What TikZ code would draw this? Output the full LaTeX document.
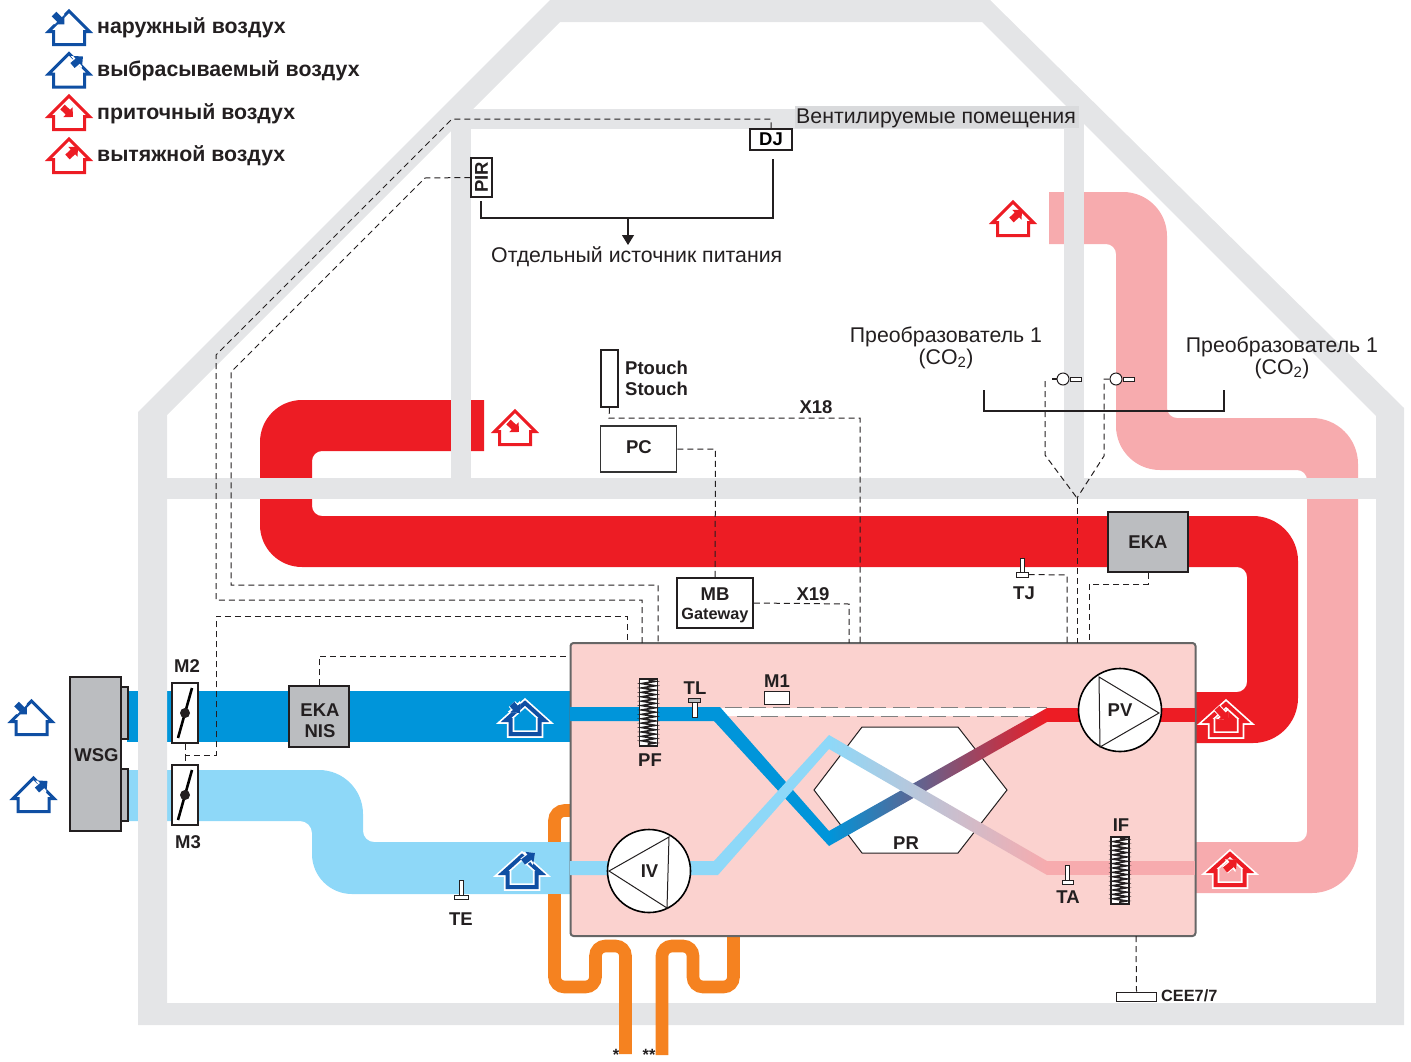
\documentclass[tikz,border=0pt]{standalone}
\usepackage{fontspec}
\setmainfont{Liberation Sans}
\usetikzlibrary{arrows.meta,calc,decorations.pathmorphing}

\definecolor{wallgray}{HTML}{E4E5E7}
\definecolor{labelgray}{HTML}{D9DADC}
\definecolor{partgray}{HTML}{BBBDC0}
\definecolor{inkdark}{HTML}{231F20}
\definecolor{unitpink}{HTML}{FBD2CF}
\definecolor{ductblue}{HTML}{0095DA}
\definecolor{ductsky}{HTML}{8ED8F8}
\definecolor{ductred}{HTML}{ED1C24}
\definecolor{ductrose}{HTML}{F7ABAE}
\definecolor{pipeorange}{HTML}{F58220}
\definecolor{houseblue}{HTML}{0F4FA3}
\definecolor{darkmix}{HTML}{6E6C7C}
\definecolor{palemix}{HTML}{C3C6DA}

\tikzset{
    big/.style={font=\fontsize{18.5}{20}\selectfont\bfseries, text=inkdark, inner sep=0pt},
    small/.style={font=\fontsize{16.3}{18}\selectfont\bfseries, text=inkdark, inner sep=0pt},
    legend/.style={font=\fontsize{21.3}{22}\selectfont\bfseries, text=inkdark, anchor=west, inner sep=0pt},
    plain/.style={font=\fontsize{21.3}{21.5}\selectfont, text=inkdark, inner sep=0pt, align=center},
    partbox/.style={rectangle, draw=inkdark, line width=1.5pt, inner sep=0pt, fill=white},
    graybox/.style={partbox, fill=partgray, font=\fontsize{18.5}{20}\selectfont\bfseries, text=inkdark, align=center},
    ctrl/.style={draw=inkdark, line width=1pt, dash pattern=on 6pt off 4pt},
    wire/.style={draw=inkdark, line width=1.2pt},
    filterbox/.style={partbox, minimum width=18pt, minimum height=67pt},
    coil/.style={draw=inkdark, line width=1.7pt, decorate, decoration={zigzag, segment length=4.4pt, amplitude=6.4pt}},
    fan/.style={circle, draw=black, line width=1.6pt, fill=white, minimum size=83pt, inner sep=0pt},
    blade/.style={draw=black, line width=2.6pt},
    stemline/.style={draw=inkdark, line width=1pt, fill=white},
    pics/airhouse/.style n args={3}{code={
        \draw[#1, line width=3pt] (-15.5,-1.5) -- (15.5,-1.5) -- (15.5,-14.5) -- (20.5,-14.5) -- (0,-35) -- (-20.5,-14.5) -- (-15.5,-14.5) -- cycle;
        \draw[white, line width=8.5pt, -{Triangle[length=9pt,width=16pt]}] (#2) -- (#3);
        \draw[#1, line width=6.5pt, -{Triangle[length=7pt,width=13pt]}] (#2) -- (#3);
    }},
    pics/ducthouse/.style n args={3}{code={
        \draw[white, line width=7.5pt] (-14.5,-3) -- (14.5,-3) -- (14.5,-17) -- (19,-17) -- (0,-34) -- (-19,-17) -- (-14.5,-17) -- cycle;
        \draw[#1, line width=4pt] (-14.5,-3) -- (14.5,-3) -- (14.5,-17) -- (19,-17) -- (0,-34) -- (-19,-17) -- (-14.5,-17) -- cycle;
        \draw[white, line width=8.5pt, -{Triangle[length=9pt,width=16pt]}] (#2) -- (#3);
        \draw[#1, line width=6.5pt, -{Triangle[length=7pt,width=13pt]}] (#2) -- (#3);
    }},
}

\begin{document}
\begin{tikzpicture}[x=1pt, y=-1pt]
    \useasboundingbox (0,0) rectangle (1411,1061);

    % ducts
    \fill[ductred] (484,400) [rounded corners=42pt] -- (260,400) -- (260,567) [rounded corners=10pt] -- (1247,567) -- (1247,692) [sharp corners] -- (1195,692) -- (1195,743) [rounded corners=45pt] -- (1298,743) -- (1298,516) [rounded corners=10pt] -- (312,516) -- (312,451) [sharp corners] -- (484,451) -- cycle;
    \fill[ductrose] (1049,192) [rounded corners=44pt] -- (1167,192) [rounded corners=10pt] -- (1167,418) [rounded corners=46pt] -- (1358,418) -- (1358,893) [sharp corners] -- (1195,893) -- (1195,842) [rounded corners=10pt] -- (1307,842) -- (1307,470) [rounded corners=44pt] -- (1116,470) [rounded corners=10pt] -- (1116,244) [sharp corners] -- (1049,244) -- cycle;
    \fill[ductblue] (127,691) rectangle (570,742);
    \fill[ductsky] (127,770) [rounded corners=44pt] -- (363,770) [rounded corners=11pt] -- (363,842) [sharp corners] -- (570,842) -- (570,894) [rounded corners=40pt] -- (312,894) [rounded corners=12pt] -- (312,821) [sharp corners] -- (127,821) -- cycle;

    % building
    \fill[wallgray, even odd rule] (138,1025) -- (138,412) -- (550,0) -- (990,0) -- (1404,408) -- (1404,1025) -- cycle
        (167,1003) -- (167,415) -- (560,22) -- (982,22) -- (1376,416) -- (1376,1003) -- cycle;
    \fill[wallgray] (138,478) rectangle (1404,499);
    \fill[wallgray] (451,110) rectangle (471,478);
    \fill[wallgray] (451,109) rectangle (1084,129);
    \fill[wallgray] (1064,110) rectangle (1084,478);
    \fill[labelgray] (795,106) rectangle (1079,128);
    \node[plain] (rooms) at (936,118) {Вентилируемые помещения};

    % hot water
    \draw[pipeorange, line width=12.6pt, rounded corners=10pt] (570,810.5) -- (554.5,810.5) -- (554.5,987) -- (595.5,987) -- (595.5,946) -- (625.5,946) -- (625.5,1054);
    \draw[pipeorange, line width=12.6pt, rounded corners=10pt] (662,1055) -- (662,946) -- (693,946) -- (693,987) -- (733.5,987) -- (733.5,930);
    \fill[ductsky] (540,842) rectangle (570,894);
    \node[small, anchor=base] (star) at (616,1060) {*};
    \node[small, anchor=base] (stars) at (649,1060) {**};

    % unit
    \node[rectangle, draw=black!60, line width=2pt, fill=unitpink, rounded corners=3pt, minimum width=625pt, minimum height=293pt, inner sep=0pt] (unit) at (883,789.5) {};

    % air inside the unit
    \fill[white] (720,708) -- (1047,708) -- (1034,716) -- (727,716) -- cycle;
    \draw[gray, line width=1pt, dash pattern=on 17pt off 7pt] (725,707.5) -- (1047,707.5);
    \draw[gray, line width=1pt, dash pattern=on 17pt off 7pt] (737,716) -- (1034,716);
    \draw[draw=inkdark, line width=1pt, fill=white] (814,790) -- (862,727) -- (958,727) -- (1007,790) -- (958,853) -- (862,853) -- cycle;
    \fill[ductblue] (570,707) -- (720,707) -- (829,831) -- (829,846) -- (714,721) -- (570,721) -- cycle;
    \fill[ductred] (1047,708) rectangle (1195,722);
    \fill[ductrose] (1047,861) rectangle (1195,875);
    \shade[left color=ductblue, middle color=darkmix, right color=ductred] (829,831) -- (1047,708) -- (1047,722) -- (829,846) -- cycle;
    \fill[ductsky] (570,861) -- (714,861) -- (829,735) -- (829,749) -- (718,875) -- (570,875) -- cycle;
    \shade[left color=ductsky, middle color=palemix, right color=ductrose] (829,735) -- (1047,861) -- (1047,875) -- (829,749) -- cycle;
    \node[big] (PR) at (906,843) {PR};

    % fans
    \node[fan] (IV) at (649,871) {};
    \draw[stemline, fill=none] (609,871) -- (669,837) -- (667,908) -- cycle;
    \node[big] at (649.5,871) {IV};
    \node[fan] (PV) at (1120,710) {};
    \draw[stemline, fill=none] (1099,677) -- (1159,713) -- (1100,747) -- cycle;
    \node[big] at (1120,710) {PV};

    % filters
    \node[filterbox] (PF) at (648.5,712.5) {};
    \draw[coil] ($(PF.north)+(0,2)$) -- ($(PF.south)+(0,-2)$);
    \node[big] at (650,760) {PF};
    \node[filterbox] (IF) at (1120,870.5) {};
    \draw[coil] ($(IF.north)+(0,2)$) -- ($(IF.south)+(0,-2)$);
    \node[big] at (1121,825) {IF};

    % sensors
    \draw[stemline] (692,700) rectangle (697,717);
    \draw[stemline, fill=partgray] (688,698) rectangle (700,702);
    \node[big] at (695,688) {TL};
    \node[rectangle, draw=inkdark, line width=1pt, fill=white, minimum width=25pt, minimum height=13pt, inner sep=0pt] (M1) at (777,698) {};
    \node[big] at (777,681) {M1};
    \draw[stemline] (1065,865) rectangle (1069,880);
    \draw[stemline] (1062,880) rectangle (1073,884);
    \node[big] at (1068,897) {TA};
    \draw[stemline] (459,880) rectangle (463,895);
    \draw[stemline] (454,895) rectangle (468,899);
    \node[big] at (461,919) {TE};
    \draw[stemline] (1020,558) rectangle (1024,572);
    \node[rectangle, draw=inkdark, line width=1pt, fill=white, minimum width=12pt, minimum height=5pt, inner sep=0pt] (TJ) at (1022,574.5) {};
    \node[big] at (1024,593) {TJ};

    % outside parts
    \node[graybox, minimum width=7pt, minimum height=52pt] (tabA) at (124.5,713) {};
    \node[graybox, minimum width=7pt, minimum height=52pt] (tabB) at (124.5,795) {};
    \node[graybox, minimum width=51pt, minimum height=154pt] (WSG) at (95.5,754) {};
    \node[big] at (96.5,755) {WSG};
    \node[partbox, minimum width=26pt, minimum height=60pt] (M2) at (185,713) {};
    \draw[blade] (178,738) -- (192,688);
    \fill[inkdark] (M2.center) circle (5);
    \node[big] at (187,666) {M2};
    \node[partbox, minimum width=26pt, minimum height=60pt] (M3) at (185,795) {};
    \draw[blade] (178,820) -- (192,770);
    \fill[inkdark] (M3.center) circle (5);
    \node[big] at (188,842) {M3};
    \node[graybox, minimum width=60pt, minimum height=61pt] (NIS) at (319,716.5) {};
    \node[big] at (320,710) {EKA};
    \node[big] at (320,731) {NIS};
    \node[graybox, minimum width=80pt, minimum height=60pt] (EKA) at (1148,542) {EKA};

    % controls
    \node[partbox, minimum width=42pt, minimum height=21pt, font=\fontsize{18.5}{20}\selectfont\bfseries] (DJ) at (771,139.5) {DJ};
    \node[partbox, minimum width=21pt, minimum height=39pt] (PIR) at (481.5,177.5) {};
    \node[big, rotate=90] at (PIR) {PIR};
    \node[partbox, minimum width=17pt, minimum height=57pt] (touch) at (609.5,378.5) {};
    \node[big, anchor=west, align=left] at (625,378) {Ptouch\\[1pt]Stouch};
    \node[partbox, draw=black!80, minimum width=76pt, minimum height=46pt] (PC) at (638.5,449) {};
    \node[big] at (639,447.5) {PC};
    \node[partbox, minimum width=76pt, minimum height=50pt] (MB) at (715,603) {};
    \node[big] at (715,594) {MB};
    \node[small] at (715,615) {Gateway};
    \node[big] at (816,407) {X18};
    \node[big] at (813,594) {X19};
    \node[plain, anchor=west] (power) at (491,256.5) {Отдельный источник питания};
    \node[plain] at (946,348) {Преобразователь 1\\(CO\textsubscript{2})};
    \node[plain] at (1282,358) {Преобразователь 1\\(CO\textsubscript{2})};

    % sensors on the duct
    \node[circle, draw=inkdark, line width=1pt, fill=white, minimum size=12pt, inner sep=0pt] (COa) at (1063,379) {};
    \node[rectangle, draw=inkdark, line width=1pt, fill=white, minimum width=11pt, minimum height=4pt, inner sep=0pt, anchor=west] (COaend) at (COa.east) {};
    \node[circle, draw=inkdark, line width=1pt, fill=white, minimum size=12pt, inner sep=0pt] (COb) at (1116,379) {};
    \node[rectangle, draw=inkdark, line width=1pt, fill=white, minimum width=11pt, minimum height=4pt, inner sep=0pt, anchor=west] (CObend) at (COb.east) {};
    \draw[wire] (COa.west) -- ++(-5,0);
    \draw[wire] (984,390) -- (984,411) -- (1224,411) -- (1224,390);

    \coordinate (split) at (1077,498);
    \draw[ctrl] (COb.west) -- (1104,379) -- (1104,456) -- (split);
    \draw[ctrl] (1045,381) -- (1045,455) -- (split);
    \draw[ctrl] (split) -- (1077,643);
    \draw[ctrl] (TJ.east) -- (1067,575) -- (1067,643);
    \draw[ctrl] (EKA.south) -- (1148,584) -- (1089,584) -- (1089,643);

    \draw[ctrl] (DJ.north) -- (771,119) -- (452,119) -- (216,355) -- (216,600) -- (642,600) -- (642,643);
    \draw[ctrl] (PIR.west) -- (425,178) -- (231,372) -- (231,585) -- (658,585) -- (658,643);
    \draw[ctrl] (M2.south) -- (185,755) -- (216,755) -- (216,616) -- (627,616) -- (627,643);
    \draw[ctrl] (185,755) -- (M3.north);
    \draw[ctrl] (NIS.north) -- (319,656.5) -- (570,656.5);
    \draw[ctrl] (touch.south) -- (609,418) -- (860,418) -- (860,643);
    \draw[ctrl] (PC.east) -- (715.5,449) -- (MB.north);
    \draw[ctrl] (MB.east) -- (849,604) -- (849,643);

    \coordinate (sourcetop) at (628,218);
    \draw[wire] (481,201) -- (481,218) -- (773,218) -- (773,159);
    \draw[wire, -{Triangle[length=10pt,width=12pt]}] (sourcetop) -- (628,245);

    \node[rectangle, draw=inkdark, line width=1pt, fill=white, minimum width=40pt, minimum height=9pt, inner sep=0pt] (CEE) at (1136.5,996.5) {};
    \draw[ctrl] (1136,936) -- (CEE.north);
    \node[small, anchor=west] at (1161,996) {CEE7/7};

    % houses
    \pic at (69,46) {airhouse={houseblue}{-15,-32}{-4.5,-21.5}};
    \pic at (69,88.5) {airhouse={houseblue}{3.5,-23}{14,-32}};
    \pic at (69,131) {airhouse={ductred}{-6.5,-24}{4,-14}};
    \pic at (69,174) {airhouse={ductred}{-1.5,-17}{9,-27}};
    \pic at (31.5,736) {airhouse={houseblue}{-15,-32}{-4.5,-21.5}};
    \pic at (33.5,813) {airhouse={houseblue}{3.5,-23}{14,-32}};
    \pic at (1013,237) {airhouse={ductred}{-1.5,-17}{9,-27}};
    \pic at (515,446) {airhouse={ductred}{-6.5,-24}{4,-14}};
    \pic at (525,737) {ducthouse={houseblue}{-13,-33}{-5,-24}};
    \pic at (522,890) {ducthouse={houseblue}{1,-28}{13,-37}};
    \pic at (1226,738) {ducthouse={ductred}{-9,-30}{2,-18}};
    \pic at (1230,888) {ducthouse={ductred}{-5,-18}{7,-28}};

    \node[legend] at (97,27.5) {наружный воздух};
    \node[legend] at (97,70.5) {выбрасываемый воздух};
    \node[legend] at (97,113.5) {приточный воздух};
    \node[legend] at (97,155.5) {вытяжной воздух};
\end{tikzpicture}
\end{document}
